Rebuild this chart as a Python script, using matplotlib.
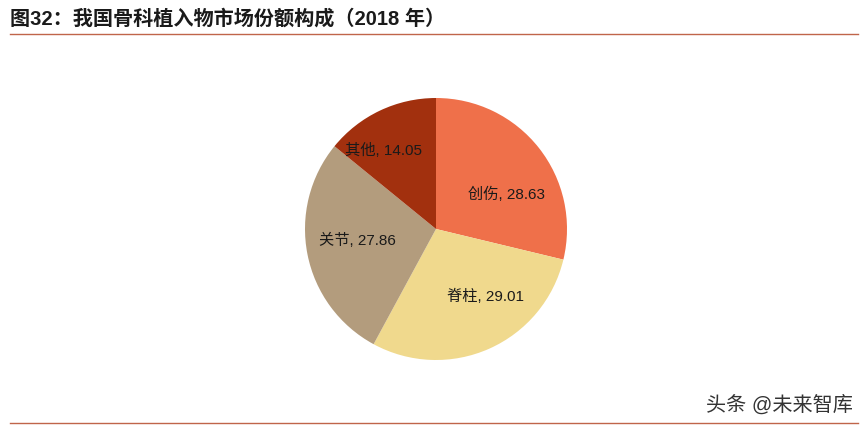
import matplotlib.pyplot as plt

plt.rcParams['font.family'] = ['Liberation Sans', 'Noto Sans CJK SC', 'DejaVu Sans']

categories = ['创伤', '脊柱', '关节', '其他']
values = [28.63, 29.01, 27.86, 14.05]
colors = ['#EF704A', '#F0D98D', '#B39C7D', '#A2300E']
# label centres, in units of the pie radius
label_pos = [(0.54, 0.27), (0.38, -0.51), (-0.60, -0.08), (-0.40, 0.61)]

fig = plt.figure(figsize=(8.68, 4.27), dpi=100)

# title and rules
fig.text(0.012, 0.955, '图32：我国骨科植入物市场份额构成（2018 年）',
         fontsize=14.5, fontweight='bold', va='center', ha='left', color='#1a1a1a')
fig.add_artist(plt.Line2D([0.012, 0.988], [0.918, 0.918], color='#C0654A', lw=1.0))
fig.add_artist(plt.Line2D([0.012, 0.988], [0.006, 0.006], color='#C0654A', lw=1.0))
fig.text(0.983, 0.052, '头条 @未来智库', fontsize=14.5, ha='right', va='center', color='#333333')

# pie: centre (436, 230) px, radius ~131 px
r_px = 131
ax = fig.add_axes([(436 - r_px) / 868, (427 - 230 - r_px) / 427,
                   2 * r_px / 868, 2 * r_px / 427])
wedges, _ = ax.pie(values, colors=colors, startangle=90, counterclock=False,
                   radius=1.0, wedgeprops=dict(linewidth=0))
for name, v, (x, y) in zip(categories, values, label_pos):
    ax.text(x, y, f'{name}, {v:.2f}', ha='center', va='center',
            fontsize=11, color='#1a1a1a')
ax.set_xlim(-1, 1)
ax.set_ylim(-1, 1)
ax.set_aspect('equal')
ax.axis('off')

fig.savefig('out.png', dpi=100)
